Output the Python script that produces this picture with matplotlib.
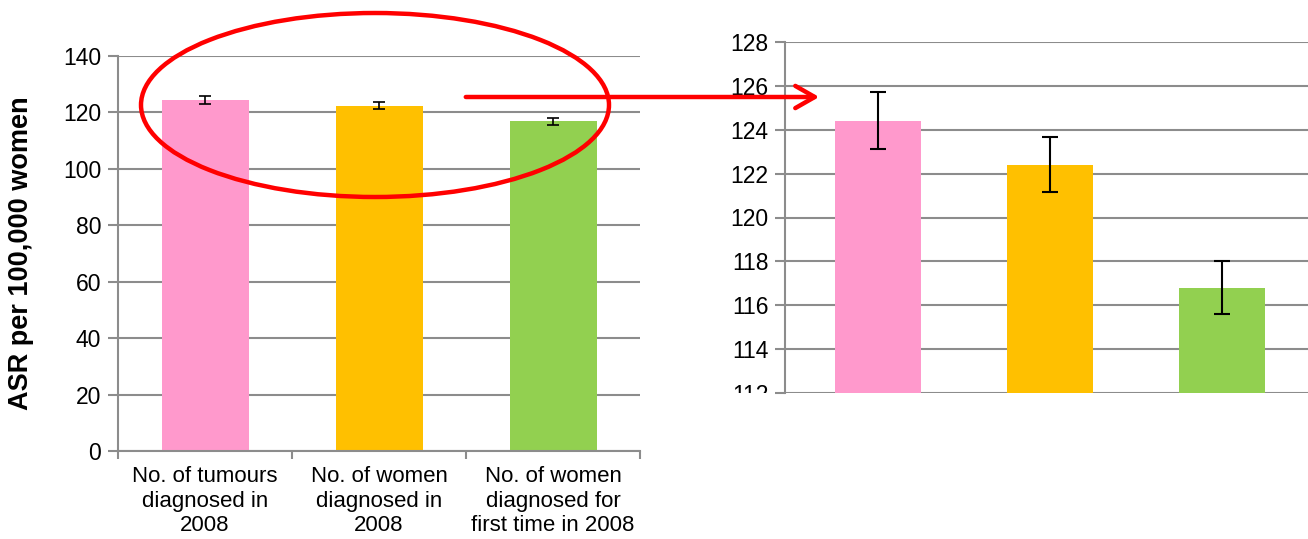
import matplotlib.pyplot as plt
from matplotlib.patches import Ellipse, FancyArrowPatch, Rectangle

plt.rcParams['font.family'] = ['Liberation Sans', 'DejaVu Sans']

categories = ['No. of tumours\ndiagnosed in\n2008',
              'No. of women\ndiagnosed in\n2008',
              'No. of women\ndiagnosed for\nfirst time in 2008']
asr = [124.4, 122.4, 116.8]
err = [1.3, 1.25, 1.2]
colors = ['#FF99CC', '#FFC000', '#92D050']
left_ticks = [0, 20, 40, 60, 80, 100, 120, 140]
right_ticks = [112, 114, 116, 118, 120, 122, 124, 126, 128]

W, H = 1308, 539
fig = plt.figure(figsize=(W / 100, H / 100), dpi=100)
grid_c = '#8C8C8C'

def fx(px):
    return px / W

def fy(py):
    return 1 - py / H

# left chart
ax1 = fig.add_axes([fx(118), fy(451), fx(640 - 118), fy(56) - fy(451)])
x = range(len(asr))
ax1.bar(x, asr, width=0.5, color=colors, zorder=2)
ax1.errorbar(x, asr, yerr=err, fmt='none', ecolor='black', elinewidth=1.2,
             capsize=4, capthick=1.2, zorder=3)
ax1.set_xlim(-0.5, 2.5)
ax1.set_ylim(0, 140)
ax1.set_yticks(left_ticks)
ax1.yaxis.grid(True, color=grid_c, lw=1.5, zorder=0)
ax1.set_xticks([-0.5, 0.5, 1.5, 2.5])
ax1.set_xticklabels([])
ax1.set_xticks(list(x), minor=True)
ax1.set_xticklabels(categories, minor=True, fontsize=16, linespacing=1.22)
ax1.tick_params(axis='x', which='minor', length=0, pad=11)
ax1.tick_params(axis='x', which='major', length=6, width=1.5, color=grid_c)
ax1.tick_params(axis='y', length=7, width=1.5, color=grid_c, labelsize=16.5, pad=5)
for s in ['top', 'right']:
    ax1.spines[s].set_visible(False)
for s in ['left', 'bottom']:
    ax1.spines[s].set_color(grid_c)
    ax1.spines[s].set_linewidth(1.5)
ax1.set_ylabel('ASR per 100,000 women', fontsize=19.5, fontweight='bold')
ax1.yaxis.set_label_coords(-(118 - 34) / 522, 0.5)

# right chart (zoomed)
ax2 = fig.add_axes([fx(785), fy(393), fx(1308 - 785), fy(42) - fy(393)])
ax2.bar(x, asr, width=0.5, color=colors, zorder=2)
ax2.errorbar(x, asr, yerr=err, fmt='none', ecolor='black', elinewidth=1.5,
             capsize=6, capthick=1.5, zorder=3)
ax2.set_xlim(-0.54, 2.5)
ax2.set_ylim(112, 128)
ax2.set_yticks(right_ticks)
ax2.yaxis.grid(True, color=grid_c, lw=1.5, zorder=0)
ax2.set_xticks([])
ax2.tick_params(axis='y', length=7, width=1.5, color=grid_c, labelsize=16.5, pad=5)
for s in ['top', 'right', 'bottom']:
    ax2.spines[s].set_visible(False)
ax2.spines['left'].set_color(grid_c)
ax2.spines['left'].set_linewidth(1.5)
# the bottom label is cut off in the original
clip = Rectangle((0, fy(393)), 1, 1, transform=fig.transFigure, visible=False)
fig.add_artist(clip)
for lbl in ax2.get_yticklabels():
    lbl.set_clip_path(clip)

# annotation: ellipse and arrow
ell = Ellipse((fx(375), fy(105)), fx(468), fy(0) - fy(184), transform=fig.transFigure,
              fill=False, edgecolor='#FF0000', lw=3.2)
fig.add_artist(ell)
arr = FancyArrowPatch((fx(463), fy(97)), (fx(822), fy(97)), transform=fig.transFigure,
                      arrowstyle='->,head_length=14,head_width=8', color='#FF0000',
                      lw=3.2, mutation_scale=1)
fig.add_artist(arr)

fig.savefig('out.png', dpi=100)
